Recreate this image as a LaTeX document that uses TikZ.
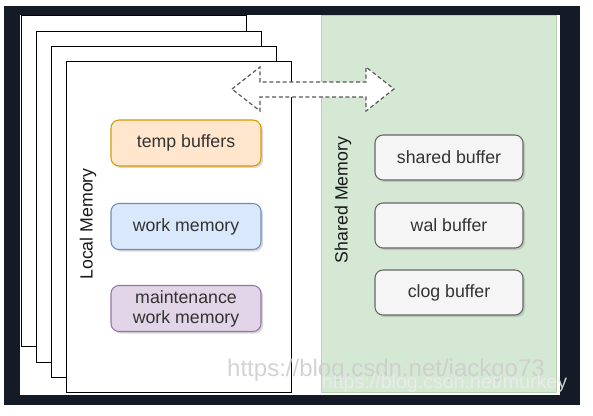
\documentclass[tikz,border=0pt]{standalone}
\usepackage{fontspec}
\setmainfont{Liberation Sans}
\usetikzlibrary{shadows}
\definecolor{framebg}{HTML}{141B26}
\definecolor{sharedfill}{HTML}{D5E8D4}
\definecolor{shareddraw}{HTML}{B7D3B0}

\begin{document}
\begin{tikzpicture}[
        x=0.75pt, y=-0.75pt,
        page/.style={rectangle, draw=black, fill=white, line width=1pt, anchor=north west, inner sep=0pt, minimum width=168.75pt, minimum height=248.25pt},
        buf/.style={rectangle, rounded corners=6pt, line width=0.8pt, inner sep=0pt, minimum width=112.5pt, minimum height=34.5pt, align=center, text=black!80, font=\fontsize{13.3}{15}\selectfont, drop shadow={shadow xshift=1.5pt, shadow yshift=-1.5pt, opacity=0.3}},
        memlabel/.style={rotate=90, text=black!90, font=\fontsize{13.3}{15}\selectfont},
        xferarrow/.style={draw=black!65, fill=white, dash pattern=on 3pt off 2pt, line width=0.9pt},
        watermark/.style={text=gray!40, opacity=0.85}
    ]

    % Frame
    \useasboundingbox (0,0) rectangle (593,415);
    \fill[white] (0,0) rectangle (593,415);
    \fill[framebg] (4,6) rectangle (580,405);
    \fill[white] (20,15) rectangle (560,395);

    % Local Memory (stacked pages)
    \node (page1) at (21,15) [page] {};
    \node (page2) at (36,31) [page] {};
    \node (page3) at (51,46) [page] {};
    \node (page4) at (66,61) [page] {};
    \node (local) at (88,224) [memlabel] {Local Memory};

    \node (temp) at (186,143) [buf, fill={rgb,255:red,255;green,230;blue,204}, draw={rgb,255:red,215;green,155;blue,0}] {temp buffers};
    \node (work) at (186,226.5) [buf, fill={rgb,255:red,218;green,232;blue,252}, draw={rgb,255:red,108;green,142;blue,191}] {work memory};
    \node (maint) at (186,308.5) [buf, fill={rgb,255:red,225;green,213;blue,231}, draw={rgb,255:red,150;green,115;blue,166}] {maintenance\\work memory};

    % Shared Memory
    \node (shared) at (321,15) [rectangle, anchor=north west, fill=sharedfill, draw=shareddraw, line width=0.8pt, inner sep=0pt, minimum width=176.25pt, minimum height=282.75pt] {};
    \node (sharedlabel) at (343,200) [memlabel] {Shared Memory};

    \node (sbuf) at (449,157.5) [buf, minimum width=111pt, minimum height=33.75pt, fill=black!4, draw=black!60] {shared buffer};
    \node (wal) at (449,225.5) [buf, minimum width=111pt, minimum height=33.75pt, fill=black!4, draw=black!60] {wal buffer};
    \node (clog) at (449,292.5) [buf, minimum width=111pt, minimum height=33.75pt, fill=black!4, draw=black!60] {clog buffer};

    % Exchange between local and shared
    \coordinate (xfer) at (313,89);
    \draw[xferarrow] (xfer) ++(-81,0) -- ++(28,-22) -- ++(0,15) -- ++(106,0) -- ++(0,-15)
        -- ++(28,22) -- ++(-28,22) -- ++(0,-14) -- ++(-106,0) -- ++(0,14) -- cycle;

    % Watermarks
    \node (mark1) at (386,370) [watermark, font=\fontsize{18}{18}\selectfont] {https://blog.csdn.net/jackgo73};
    \node (mark2) at (444.5,383) [watermark, text=white!85!gray, font=\fontsize{14.7}{15}\selectfont] {https://blog.csdn.net/murkey};

    \end{tikzpicture}
\end{document}
